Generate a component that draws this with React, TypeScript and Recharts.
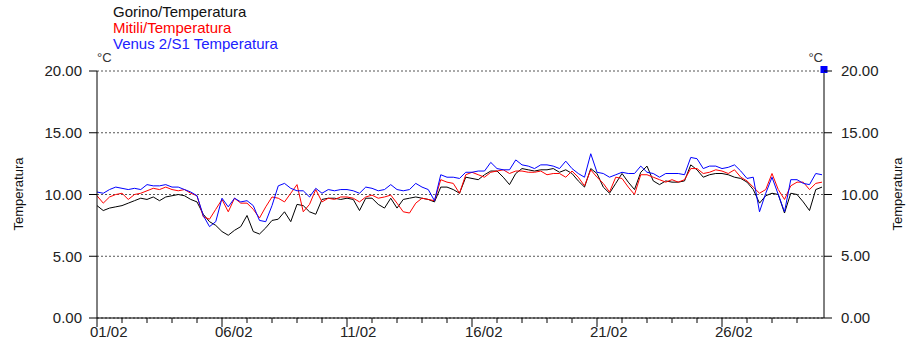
import React from "react";
import {
  LineChart,
  Line,
  XAxis,
  YAxis,
  CartesianGrid,
  ReferenceDot,
} from "recharts";

// readings every 6 hours, starting 01/02 00:00
const STEP_DAYS = 0.25;

const gorino = [
  9.1, 8.7, 8.9, 9.0, 9.1, 9.3, 9.5, 9.7, 9.6, 9.8, 9.5, 9.8, 9.9, 10.0, 9.9, 9.6,
  9.4, 8.4, 7.8, 7.5, 7.0, 6.7, 7.1, 7.4, 8.3, 7.0, 6.8, 7.3, 7.9, 8.0, 8.6, 7.8,
  9.2, 9.1, 8.6, 8.4, 9.6, 9.7, 9.7, 9.6, 9.7, 9.6, 8.7, 9.7, 9.7, 9.2, 8.9, 9.7,
  8.9, 9.6, 9.7, 9.8, 9.7, 9.6, 9.4, 10.6, 10.6, 10.4, 10.1, 11.4, 11.3, 11.2, 11.6, 11.9,
  11.9, 11.4, 10.8, 11.7, 12.1, 12.0, 11.9, 12.0, 12.0, 12.1, 11.8, 12.0, 11.7, 11.1, 10.6, 12.1,
  11.7, 10.6, 10.1, 10.9, 11.7, 11.0, 10.4, 11.8, 12.3, 11.1, 10.8, 11.1, 11.0, 11.0, 11.1, 12.4,
  12.0, 11.4, 11.6, 11.7, 11.7, 11.6, 11.4, 11.3, 11.0, 10.4, 9.3, 9.9, 10.1, 10.0, 8.5, 10.1,
  10.0, 9.4, 8.7, 10.4, 10.6,
];

const mitili = [
  9.9, 9.3, 9.8, 10.0, 10.1, 9.6, 10.0, 10.1, 10.3, 10.5, 10.4, 10.6, 10.4, 10.3, 10.4, 10.1,
  9.9, 8.2, 8.0, 8.8, 9.6, 8.6, 9.7, 9.3, 9.3, 8.8, 8.1, 9.0, 9.8, 9.7, 9.4, 10.1,
  10.8, 8.6, 9.2, 10.4, 9.4, 9.7, 9.6, 9.8, 9.8, 9.7, 9.4, 9.8, 9.95, 9.7, 9.8, 9.95,
  9.3, 8.6, 8.5, 9.3, 9.7, 9.6, 9.5, 11.2, 11.0, 10.9, 10.1, 11.6, 11.8, 11.6, 11.4, 11.8,
  11.9, 12.0, 11.7, 11.9, 11.9, 11.8, 11.8, 11.9, 11.6, 11.7, 11.7, 11.4, 11.9, 11.4, 10.7, 12.0,
  11.4, 10.9, 10.2, 11.4, 11.3, 10.6, 10.0, 11.6, 11.6, 11.4, 11.2, 11.0, 11.2, 11.0, 11.2, 12.1,
  12.1, 11.7, 11.8, 12.0, 11.9, 11.7, 12.0, 11.4, 11.1, 10.6, 10.1, 10.4, 11.7, 10.4, 9.6, 10.7,
  11.0, 11.0, 10.4, 10.9, 11.0,
];

const venus = [
  10.2, 10.1, 10.4, 10.6, 10.5, 10.4, 10.5, 10.4, 10.8, 10.7, 10.7, 10.8, 10.6, 10.6, 10.4, 10.2,
  9.9, 8.3, 7.4, 7.8, 9.7, 9.0, 9.7, 9.4, 9.5, 9.1, 7.9, 7.8, 9.1, 10.7, 10.9, 10.5,
  10.3, 10.3, 9.8, 10.5, 10.1, 10.4, 10.3, 10.4, 10.4, 10.3, 10.1, 10.6, 10.5, 10.3, 10.4, 10.8,
  10.4, 10.3, 10.4, 10.9, 10.6, 10.4, 9.5, 11.6, 11.4, 11.4, 11.3, 11.8, 11.8, 11.9, 11.9, 12.6,
  12.1, 12.0, 12.0, 12.8, 12.4, 12.3, 12.1, 12.4, 12.4, 12.3, 12.1, 12.7, 12.1, 11.7, 11.4, 13.3,
  11.8, 11.7, 11.4, 11.6, 11.8, 11.7, 11.7, 12.3, 11.8, 11.7, 11.4, 11.7, 11.7, 11.7, 11.6, 13.0,
  12.9, 12.1, 12.3, 12.3, 12.1, 12.2, 12.4, 11.9, 11.3, 11.4, 8.6, 10.1, 11.4, 10.0, 8.6, 11.2,
  11.2, 10.9, 10.8, 11.7, 11.6,
];

const dayTicks = Array.from({ length: 29 }, (_, i) => i);
const dateLabels: Record<number, string> = {
  0: "01/02",
  5: "06/02",
  10: "11/02",
  15: "16/02",
  20: "21/02",
  25: "26/02",
};
const yTicks = [0, 5, 10, 15, 20];

const data = gorino.map((g, i) => ({
  t: i * STEP_DAYS,
  gorino: g,
  mitili: mitili[i],
  venus: venus[i],
}));

const FONT = "'Liberation Sans', Arial, sans-serif";

function DayTick(props: any) {
  const { x, y, payload } = props;
  const label = dateLabels[payload.value];
  return (
    <g>
      <line x1={x} x2={x} y1={y} y2={y + (label ? 9 : 5)} stroke="#000" />
      {label && (
        <text x={x - 7} y={y + 19} textAnchor="start" fontSize={15} fill="#222" fontFamily={FONT}>
          {label}
        </text>
      )}
    </g>
  );
}

function RightTick(props: any) {
  const { y, payload } = props;
  return (
    <g>
      <line x1={824} x2={832} y1={y} y2={y} stroke="#000" />
      <text x={841} y={y + 5} textAnchor="start" fontSize={15} fill="#222" fontFamily={FONT}>
        {Number(payload.value).toFixed(2)}
      </text>
    </g>
  );
}

const square = (p: any) => <rect x={p.cx - 3.5} y={p.cy - 5} width={7} height={7} fill="#0000ff" />;

export default function App() {
  return (
    <div style={{ position: "absolute", left: 0, top: 0, width: 911, height: 342, background: "#fff" }}>
      <LineChart
        width={911}
        height={342}
        data={data}
        margin={{ top: 71, right: 47, bottom: 4, left: 57 }}
        style={{ fontFamily: FONT }}
      >
        <CartesianGrid horizontal vertical={false} stroke="#555" strokeDasharray="2 2" />
        <XAxis
          dataKey="t"
          type="number"
          domain={[0, 29.08]}
          ticks={dayTicks}
          interval={0}
          tick={<DayTick />}
          tickLine={false}
          tickSize={0}
          tickMargin={0}
          height={20}
          axisLine={{ stroke: "#000" }}
        />
        <YAxis
          domain={[0, 20]}
          ticks={yTicks}
          width={40}
          tickSize={8}
          tickMargin={7}
          tickFormatter={(v: number) => v.toFixed(2)}
          tick={{ fontSize: 15, fill: "#222" }}
          axisLine={{ stroke: "#000" }}
          tickLine={{ stroke: "#000" }}
        />
        <YAxis
          yAxisId="r"
          orientation="right"
          domain={[0, 20]}
          ticks={yTicks}
          interval={0}
          width={40}
          tick={<RightTick />}
          tickLine={false}
          axisLine={{ stroke: "#000" }}
        />
        <Line type="linear" dataKey="gorino" stroke="#000000" strokeWidth={1} dot={false} isAnimationActive={false} />
        <Line type="linear" dataKey="mitili" stroke="#ff0000" strokeWidth={1} dot={false} isAnimationActive={false} />
        <Line
          type="linear"
          dataKey="venus"
          yAxisId="r"
          stroke="#0000ff"
          strokeWidth={1}
          dot={false}
          isAnimationActive={false}
        />
        <ReferenceDot x={29.08} y={20} yAxisId="r" shape={square} ifOverflow="visible" />
      </LineChart>
      <svg
        width={911}
        height={342}
        style={{ position: "absolute", left: 0, top: 0, pointerEvents: "none" }}
        fontFamily={FONT}
      >
        <text x={113} y={17} fontSize={15} fill="#111">Gorino/Temperatura</text>
        <text x={113} y={33} fontSize={15} fill="#ff0000">Mitili/Temperatura</text>
        <text x={113} y={49} fontSize={15} fill="#2020ff">Venus 2/S1 Temperatura</text>
        <text x={97} y={62} fontSize={13} fill="#333">°C</text>
        <text x={823} y={62} fontSize={13} fill="#333" textAnchor="end">°C</text>
        <text x={23} y={194} fontSize={13} fill="#111" textAnchor="middle" transform="rotate(-90 23 194)">
          Temperatura
        </text>
        <text x={902} y={194} fontSize={13} fill="#111" textAnchor="middle" transform="rotate(-90 902 194)">
          Temperatura
        </text>
      </svg>
    </div>
  );
}
